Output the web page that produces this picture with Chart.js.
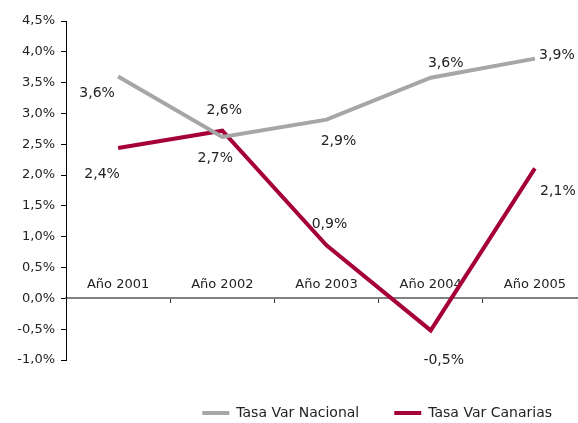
<!DOCTYPE html>
<html>
<head>
<meta charset="utf-8">
<script src="https://cdn.jsdelivr.net/npm/chart.js@4.4.1/dist/chart.umd.min.js"></script>
<style>
  html, body { margin: 0; padding: 0; background: #fff; overflow: hidden; }
  /* the plot runs a little past the right edge, as in the original */
  #wrap { width: 587px; height: 423px; }
</style>
</head>
<body>
<div id="wrap"><canvas id="chart"></canvas></div>
<script>
  'use strict';

  var years = ['Año 2001', 'Año 2002', 'Año 2003', 'Año 2004', 'Año 2005'];
  var nacional = [3.60, 2.62, 2.90, 3.58, 3.89];
  var canarias = [2.44, 2.72, 0.86, -0.52, 2.11];
  var seriesNames = ['Tasa Var Nacional', 'Tasa Var Canarias'];

  var grey = '#a6a6a6';
  var crimson = '#a5003a';
  var textColor = '#222222';
  var fontFamily = "'DejaVu Sans', sans-serif";

  function pct(v) {
      return v.toFixed(1).replace('.', ',') + '%';
  }

  // where each value label sits, relative to its point
  var labelOffsets = [
      [[-21, 17], [2, -27], [12, 22], [15, -14], [22, -3]],
      [[-16, 26], [-7, 28], [3, -21], [13, 30], [23, 23]]
  ];

  var valueLabels = {
      id: 'valueLabels',
      afterDatasetsDraw: function (chart) {
          var ctx = chart.ctx;
          ctx.save();
          ctx.font = '14px ' + fontFamily;
          ctx.fillStyle = textColor;
          ctx.textAlign = 'center';
          ctx.textBaseline = 'middle';
          chart.data.datasets.forEach(function (ds, i) {
              var meta = chart.getDatasetMeta(i);
              meta.data.forEach(function (pt, j) {
                  var off = labelOffsets[i][j];
                  ctx.fillText(pct(ds.data[j]), pt.x + off[0], pt.y + off[1]);
              });
          });
          ctx.restore();
      }
  };

  var ctx = document.getElementById('chart').getContext('2d');
  window.myLine = new Chart(ctx, {
      type: 'line',
      data: {
          labels: years,
          datasets: [
              {
                  label: seriesNames[0],
                  data: nacional,
                  borderColor: grey,
                  backgroundColor: grey,
                  borderWidth: 4,
                  pointRadius: 0,
                  tension: 0
              },
              {
                  label: seriesNames[1],
                  data: canarias,
                  borderColor: crimson,
                  backgroundColor: crimson,
                  borderWidth: 4,
                  pointRadius: 0,
                  tension: 0
              }
          ]
      },
      options: {
          responsive: true,
          maintainAspectRatio: false,
          animation: false,
          layout: {
              padding: { top: 21, left: 0, right: 0, bottom: 0 }
          },
          scales: {
              x: {
                  type: 'category',
                  offset: true,
                  position: { y: 0 },
                  grid: {
                      offset: true,
                      drawOnChartArea: false,
                      tickLength: 4,
                      color: '#333333'
                  },
                  border: { color: '#808080', width: 2 },
                  ticks: {
                      padding: -26,
                      autoSkip: false,
                      maxRotation: 0,
                      color: textColor,
                      font: { family: fontFamily, size: 13 }
                  }
              },
              y: {
                  min: -1,
                  max: 4.5,
                  afterFit: function (scale) { scale.width = 66; },
                  grid: {
                      drawOnChartArea: false,
                      tickLength: 5,
                      color: '#000000'
                  },
                  border: { color: '#000000', width: 1 },
                  ticks: {
                      stepSize: 0.5,
                      padding: 6,
                      color: textColor,
                      font: { family: fontFamily, size: 13 },
                      callback: function (v) { return pct(v); }
                  }
              }
          },
          plugins: {
              tooltip: { enabled: false },
              legend: {
                  position: 'bottom',
                  align: 'end',
                  maxHeight: 63,
                  title: {
                      display: true,
                      text: '',
                      font: { size: 8 },
                      padding: { top: 1.4, bottom: 0 }
                  },
                  labels: {
                      usePointStyle: true,
                      pointStyle: 'line',
                      pointStyleWidth: 27,
                      padding: 35,
                      color: textColor,
                      font: { family: fontFamily, size: 14 }
                  }
              }
          }
      },
      plugins: [valueLabels]
  });
</script>
</body>
</html>
